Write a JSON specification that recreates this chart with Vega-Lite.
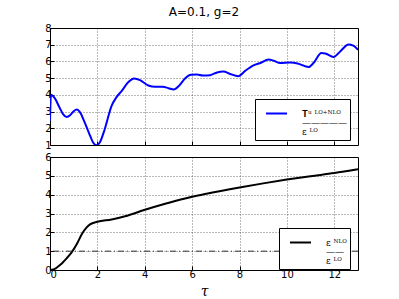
{
  "$schema": "https://vega.github.io/schema/vega-lite/v6.json",
  "padding": {"left": 44, "top": 5, "right": 5, "bottom": 2},
  "background": "white",
  "config": {
    "font": "DejaVu Sans",
    "view": {"stroke": "black", "strokeWidth": 1},
    "axis": {
      "grid": true, "gridColor": "black", "gridDash": [1, 2], "gridOpacity": 0.55,
      "domain": false, "tickColor": "black", "tickSize": -4,
      "labelFont": "DejaVu Sans", "labelFontSize": 10, "labelColor": "black", "labelPadding": 3
    },
    "legend": {
      "orient": "none", "strokeColor": "black", "fillColor": "white",
      "padding": 3, "symbolOffset": 7, "symbolType": "stroke", "symbolStrokeWidth": 2, "symbolSize": 441,
      "labelFontSize": 9, "labelFont": "DejaVu Serif", "labelColor": "black", "labelOffset": 14, "cornerRadius": 0
    }
  },
  "spacing": 0,
  "resolve": {"scale": {"color": "independent"}, "legend": {"color": "independent"}},
  "datasets": {
    "top": [
      {"t": 0, "v": 2.45, "s": "T"}, {"t": 0.04, "v": 4.0, "s": "T"}, {"t": 0.2, "v": 3.8, "s": "T"},
      {"t": 0.4, "v": 3.25, "s": "T"}, {"t": 0.55, "v": 2.85, "s": "T"}, {"t": 0.7, "v": 2.68, "s": "T"},
      {"t": 0.85, "v": 2.78, "s": "T"}, {"t": 1.0, "v": 3.02, "s": "T"}, {"t": 1.13, "v": 3.12, "s": "T"},
      {"t": 1.27, "v": 2.95, "s": "T"}, {"t": 1.45, "v": 2.4, "s": "T"}, {"t": 1.65, "v": 1.7, "s": "T"},
      {"t": 1.82, "v": 1.15, "s": "T"}, {"t": 1.95, "v": 0.98, "s": "T"}, {"t": 2.1, "v": 1.15, "s": "T"},
      {"t": 2.3, "v": 1.9, "s": "T"}, {"t": 2.6, "v": 3.34, "s": "T"}, {"t": 2.8, "v": 3.85, "s": "T"},
      {"t": 3.03, "v": 4.24, "s": "T"}, {"t": 3.3, "v": 4.75, "s": "T"}, {"t": 3.55, "v": 4.98, "s": "T"},
      {"t": 3.8, "v": 4.88, "s": "T"}, {"t": 4.15, "v": 4.56, "s": "T"}, {"t": 4.45, "v": 4.48, "s": "T"},
      {"t": 4.75, "v": 4.48, "s": "T"}, {"t": 5.0, "v": 4.4, "s": "T"}, {"t": 5.22, "v": 4.32, "s": "T"},
      {"t": 5.45, "v": 4.55, "s": "T"}, {"t": 5.7, "v": 4.98, "s": "T"}, {"t": 5.95, "v": 5.2, "s": "T"},
      {"t": 6.2, "v": 5.22, "s": "T"}, {"t": 6.45, "v": 5.16, "s": "T"}, {"t": 6.76, "v": 5.18, "s": "T"},
      {"t": 7.05, "v": 5.34, "s": "T"}, {"t": 7.32, "v": 5.39, "s": "T"}, {"t": 7.6, "v": 5.25, "s": "T"},
      {"t": 7.95, "v": 5.12, "s": "T"}, {"t": 8.25, "v": 5.45, "s": "T"}, {"t": 8.59, "v": 5.76, "s": "T"},
      {"t": 8.9, "v": 5.92, "s": "T"}, {"t": 9.22, "v": 6.12, "s": "T"}, {"t": 9.45, "v": 6.04, "s": "T"},
      {"t": 9.72, "v": 5.9, "s": "T"}, {"t": 10.14, "v": 5.93, "s": "T"}, {"t": 10.45, "v": 5.88, "s": "T"},
      {"t": 10.91, "v": 5.66, "s": "T"}, {"t": 11.15, "v": 5.95, "s": "T"}, {"t": 11.45, "v": 6.5, "s": "T"},
      {"t": 11.62, "v": 6.47, "s": "T"}, {"t": 11.97, "v": 6.27, "s": "T"}, {"t": 12.25, "v": 6.6, "s": "T"},
      {"t": 12.6, "v": 7.02, "s": "T"}, {"t": 12.8, "v": 6.95, "s": "T"}, {"t": 13.0, "v": 6.7, "s": "T"}
    ],
    "bottom": [
      {"t": 0, "v": 0, "s": "E"}, {"t": 0.15, "v": 0.03, "s": "E"}, {"t": 0.42, "v": 0.26, "s": "E"},
      {"t": 0.7, "v": 0.62, "s": "E"}, {"t": 0.92, "v": 0.95, "s": "E"}, {"t": 1.15, "v": 1.42, "s": "E"},
      {"t": 1.34, "v": 1.9, "s": "E"}, {"t": 1.52, "v": 2.22, "s": "E"}, {"t": 1.69, "v": 2.42, "s": "E"},
      {"t": 2.0, "v": 2.56, "s": "E"}, {"t": 2.6, "v": 2.68, "s": "E"}, {"t": 3.17, "v": 2.85, "s": "E"},
      {"t": 4.01, "v": 3.2, "s": "E"}, {"t": 4.86, "v": 3.52, "s": "E"}, {"t": 5.7, "v": 3.8, "s": "E"},
      {"t": 6.55, "v": 4.03, "s": "E"}, {"t": 8.0, "v": 4.38, "s": "E"}, {"t": 9.0, "v": 4.6, "s": "E"},
      {"t": 10.0, "v": 4.8, "s": "E"}, {"t": 11.0, "v": 4.98, "s": "E"}, {"t": 12.0, "v": 5.15, "s": "E"},
      {"t": 13.0, "v": 5.35, "s": "E"}
    ],
    "ref": [{"y": 1}]
  },
  "vconcat": [
    {
      "width": 308, "height": 117,
      "title": {"text": "A=0.1, g=2", "fontSize": 12, "fontWeight": "normal", "font": "DejaVu Sans", "color": "black", "offset": 4},
      "data": {"name": "top"},
      "mark": {"type": "line", "interpolate": "monotone", "strokeWidth": 2, "clip": true},
      "encoding": {
        "x": {"field": "t", "type": "quantitative", "scale": {"domain": [0, 13], "nice": false},
              "axis": {"values": [0, 2, 4, 6, 8, 10, 12], "labels": false, "title": null}},
        "y": {"field": "v", "type": "quantitative", "scale": {"domain": [1, 8], "nice": false},
              "axis": {"values": [1, 2, 3, 4, 5, 6, 7, 8], "title": null}},
        "color": {"field": "s", "type": "nominal", "scale": {"domain": ["T"], "range": ["#0000ff"]},
                  "legend": {"title": null, "legendX": 205, "legendY": 71,
                             "labelExpr": "['𝐓ᵘ ᴸᴼ⁺ᴺᴸᴼ', '—————', '     ε ᴸᴼ']",
                             "encode": {"labels": {"update": {"lineHeight": {"value": 9}}}}}}
      }
    },
    {
      "width": 308, "height": 113,
      "layer": [
        {
          "data": {"name": "bottom"},
          "mark": {"type": "line", "interpolate": "monotone", "strokeWidth": 2},
          "encoding": {
            "x": {"field": "t", "type": "quantitative", "scale": {"domain": [0, 13], "nice": false},
                  "axis": {"values": [0, 2, 4, 6, 8, 10, 12], "title": "τ", "titleFont": "DejaVu Serif", "titleFontStyle": "italic", "titleFontWeight": "normal", "titleFontSize": 14, "titlePadding": 5}},
            "y": {"field": "v", "type": "quantitative", "scale": {"domain": [0, 6], "nice": false},
                  "axis": {"values": [0, 1, 2, 3, 4, 5, 6], "title": null}},
            "color": {"field": "s", "type": "nominal", "scale": {"domain": ["E"], "range": ["black"]},
                      "legend": {"title": null, "legendX": 229, "legendY": 71,
                                 "labelExpr": "['ε ᴺᴸᴼ', '——', 'ε ᴸᴼ']",
                                 "encode": {"labels": {"update": {"lineHeight": {"value": 9}}}}}}
          }
        },
        {
          "data": {"name": "ref"},
          "mark": {"type": "rule", "color": "#333333", "strokeWidth": 1, "strokeDash": [6, 3, 1, 3]},
          "encoding": {"y": {"field": "y", "type": "quantitative", "axis": {"values": [0, 1, 2, 3, 4, 5, 6], "title": null}}}
        }
      ]
    }
  ]
}
